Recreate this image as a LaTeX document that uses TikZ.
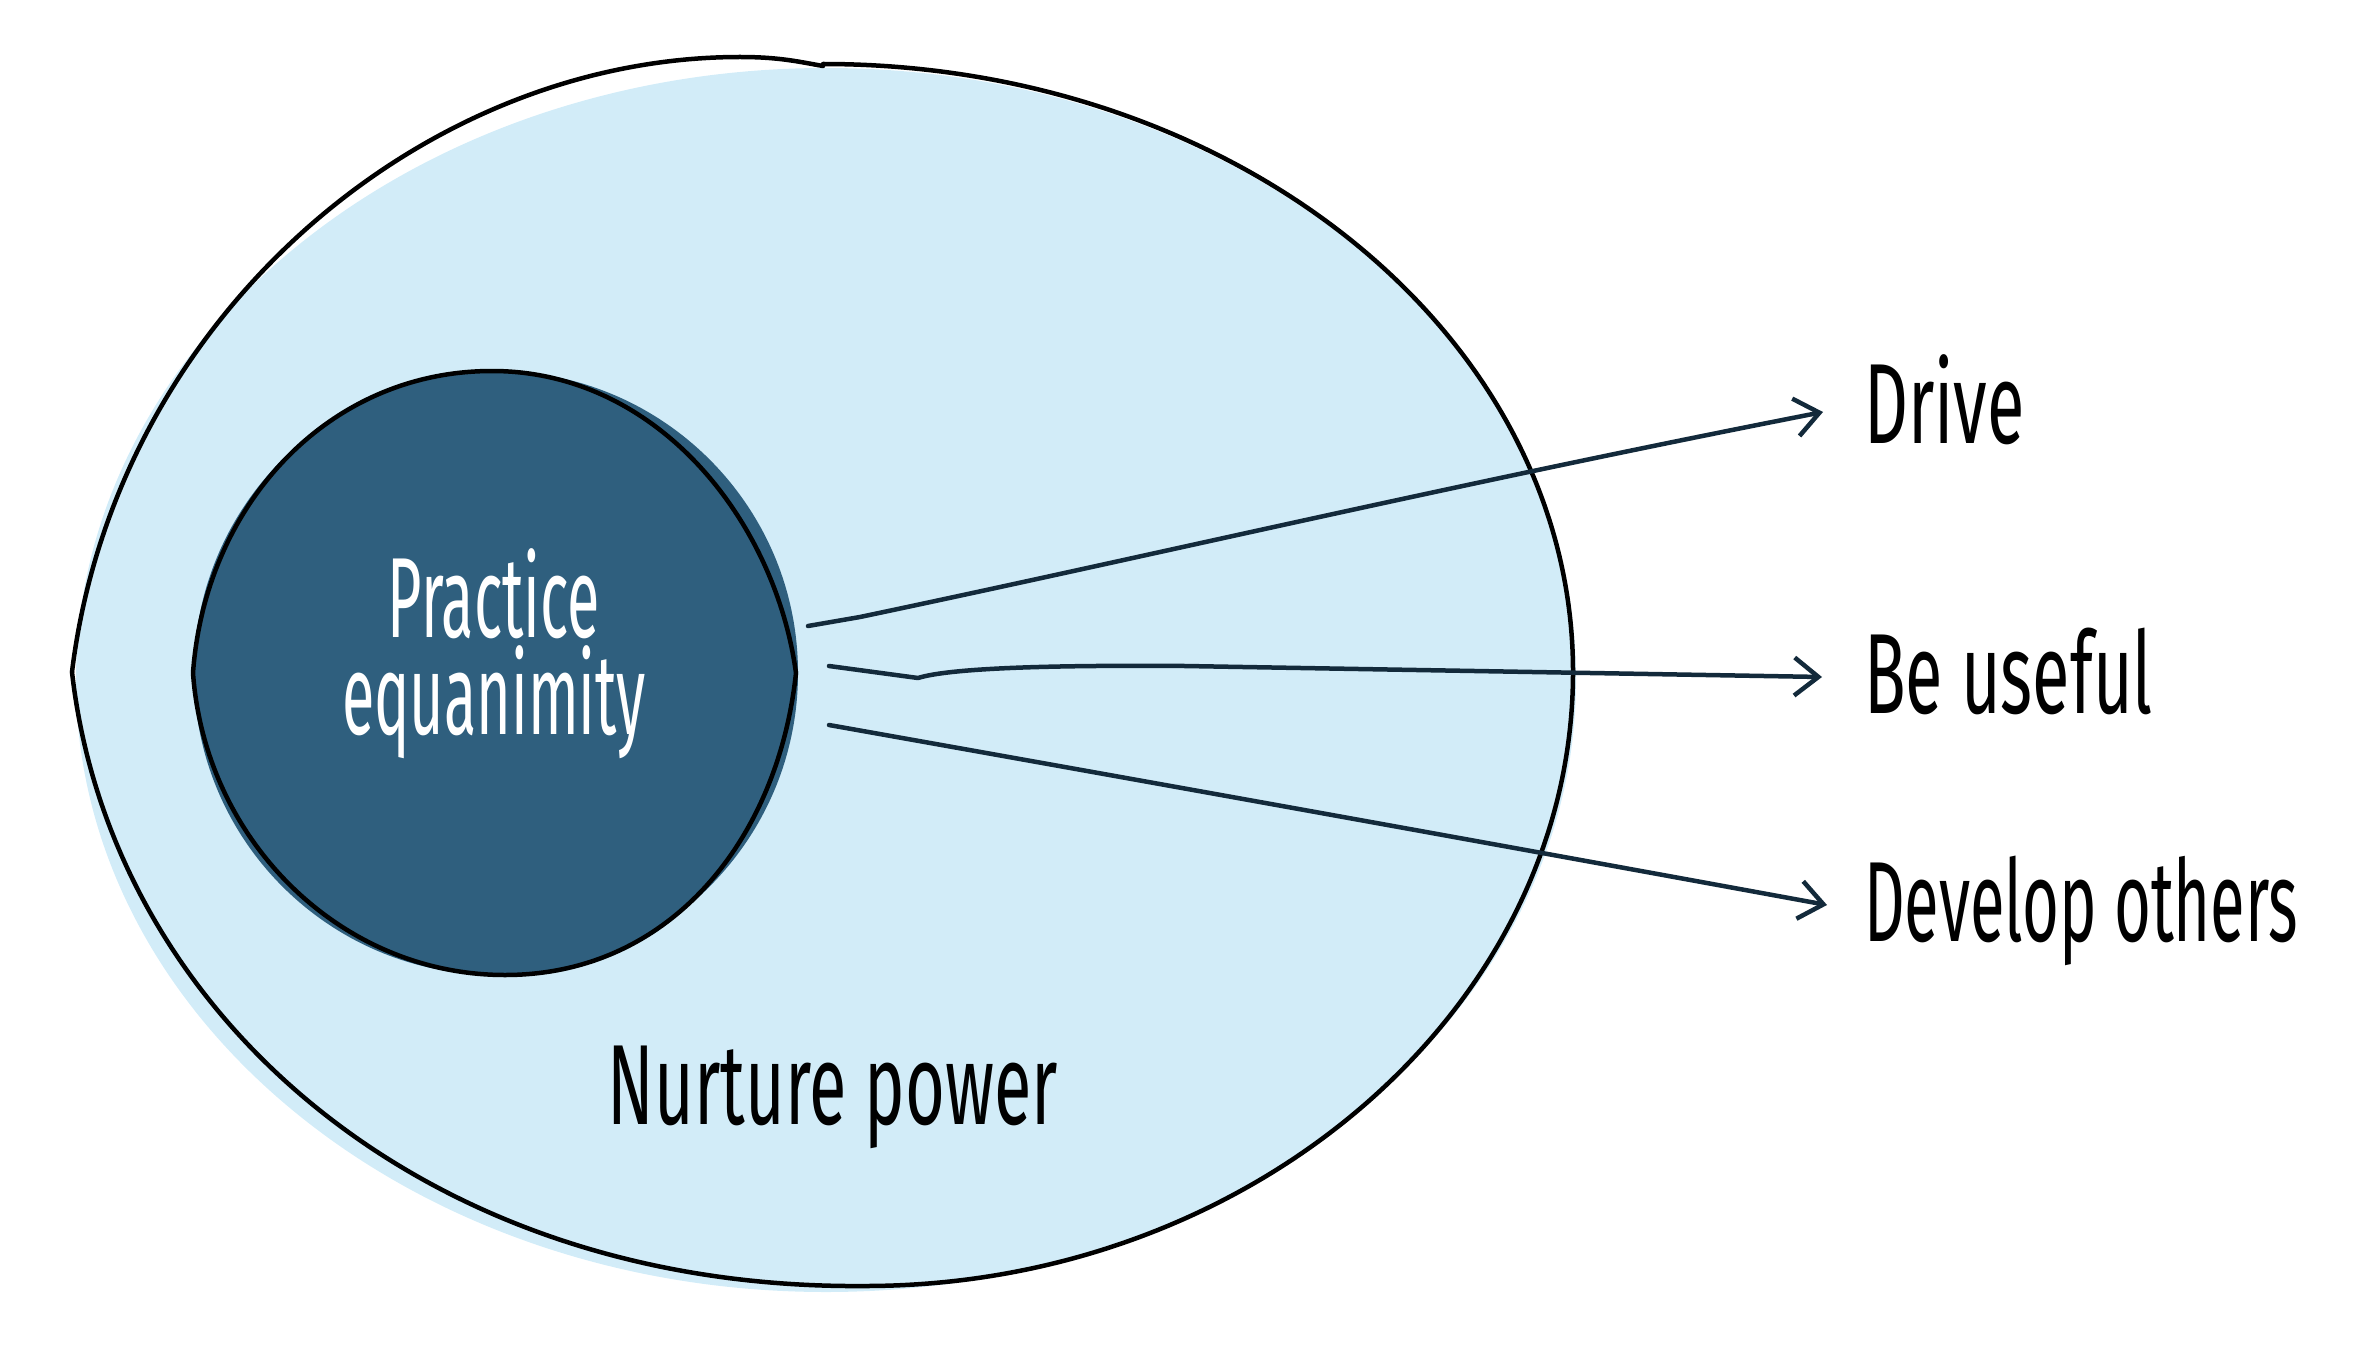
\documentclass[tikz,border=0pt]{standalone}
\usepackage{fontspec}
\newfontfamily\hand{Fira Sans}[FakeStretch=0.6]
\newfontfamily\handnarrow{Fira Sans}[FakeStretch=0.555]
\newfontfamily\handinner{Fira Sans}[FakeStretch=0.52]
\usetikzlibrary{arrows.meta}
\definecolor{lightfill}{HTML}{D2ECF8}
\definecolor{darkfill}{HTML}{2F5F7E}
\definecolor{arrowcol}{HTML}{132A3B}
\begin{document}
\begin{tikzpicture}[x=1pt,y=-1pt,
  outline/.style={draw=black,line width=4.5pt,line join=round,line cap=round},
  conn/.style={draw=arrowcol,line width=4.5pt,line cap=round,line join=round,
    -{Straight Barb[length=24pt,width=38pt,line width=4.5pt]}},
  lbl/.style={font=\hand\fontsize{114}{97}\selectfont,inner sep=0pt,anchor=base west,text=black},
]
\useasboundingbox (0,0) rectangle (2358,1348);
% outer region
\fill[lightfill] (826,680) ellipse [x radius=750, y radius=612];
\draw[outline] (72,672) .. controls (115,320) and (420,57) .. (740,57)
  .. controls (780,57) and (800,62) .. (823,66);
\draw[outline] (823,64) .. controls (1237,64) and (1573,336) .. (1573,672)
  .. controls (1573,1010) and (1250,1286) .. (865,1286)
  .. controls (420,1290) and (110,1010) .. (72,672);
% inner region
\fill[darkfill] (496,673) circle [radius=302];
\draw[outline] (193,673) .. controls (205,506) and (327,371) .. (492,371)
  .. controls (657,371) and (775,520) .. (796,673)
  .. controls (778,840) and (670,975) .. (505,975)
  .. controls (340,975) and (205,840) .. (193,673) -- cycle;
% texts
\node[font=\handinner\fontsize{114}{97}\selectfont,text=white,align=center,inner sep=0pt,anchor=base] (practice) at (494,734) {Practice\\equanimity};
\node[lbl,anchor=base] (nurture) at (833,1124) {Nurture power};
\node[lbl] (drive) at (1864,443) {Drive};
\node[lbl] (useful) at (1864,713) {Be useful};
\node[lbl,font=\handnarrow\fontsize{114}{97}\selectfont] (develop) at (1864,941) {Develop others};
% connector ends
\coordinate (s1) at (808,626);
\coordinate (k1) at (860,617);
\coordinate (e1) at (1823,412);
\coordinate (s2) at (829,666);
\coordinate (k2) at (918,678);
\coordinate (m2) at (1185,666);
\coordinate (e2) at (1822,677);
\coordinate (s3) at (829,725);
\coordinate (e3) at (1827,905);
\draw[conn] (s1) -- (k1) .. controls (1150,556) and (1450,485) .. (e1);
\draw[conn] (s2) -- (k2) .. controls (950,668) and (1050,665) .. (m2) -- (e2);
\draw[conn] (s3) .. controls (1150,782) and (1500,845) .. (e3);
\end{tikzpicture}
\end{document}
